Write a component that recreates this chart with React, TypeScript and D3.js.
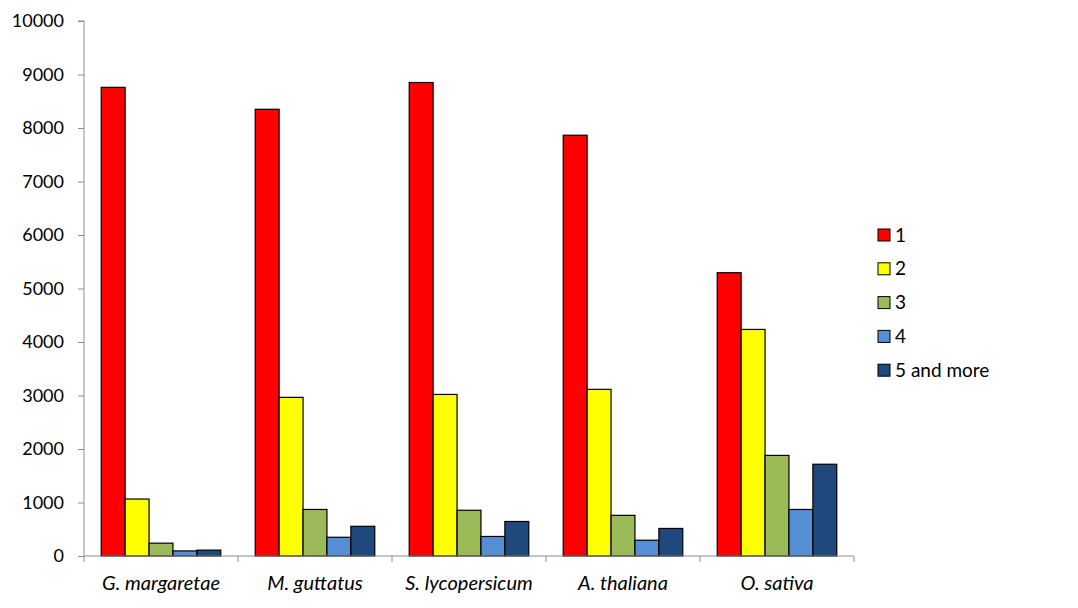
import React, {useEffect, useRef} from 'react';
import * as d3 from 'd3';

const species = ['G. margaretae', 'M. guttatus', 'S. lycopersicum', 'A. thaliana', 'O. sativa'];
const seriesNames = ['1', '2', '3', '4', '5 and more'];
const seriesColors = ['#ff0000', '#ffff00', '#9bbb59', '#558ed5', '#1f497d'];

const one = [8760, 8350, 8850, 7865, 5295];
const two = [1065, 2965, 3020, 3115, 4235];
const three = [240, 870, 855, 760, 1880];
const four = [95, 350, 365, 295, 870];
const fivePlus = [110, 555, 645, 515, 1715];

const yTicks = [0, 1000, 2000, 3000, 4000, 5000, 6000, 7000, 8000, 9000, 10000];

const allSeries = [one, two, three, four, fivePlus];

export default function App() {
  const el = useRef<SVGSVGElement>(null);

  useEffect(() => {
    const svg = d3.select(el.current);
    svg.selectAll('*').remove();

    const left = 84, right = 854, top = 21, bottom = 556;
    const font = 'Lato, "Open Sans", sans-serif';

    const x0 = d3.scaleBand().domain(species).range([left, right]).paddingInner(0).paddingOuter(0);
    const x1 = d3.scaleBand().domain(seriesNames).range([0, x0.bandwidth()]).paddingOuter(0.72).paddingInner(0);
    const y = d3.scaleLinear().domain([0, 10000]).range([bottom, top]);

    // bars
    species.forEach((sp, i) => {
      const g = svg.append('g').attr('transform', `translate(${x0(sp)},0)`);
      allSeries.forEach((vals, s) => {
        g.append('rect')
          .attr('x', x1(seriesNames[s])!)
          .attr('y', y(vals[i]))
          .attr('width', x1.bandwidth())
          .attr('height', y(0) - y(vals[i]))
          .attr('fill', seriesColors[s])
          .attr('stroke', '#000')
          .attr('stroke-width', 1.2);
      });
    });

    // y axis
    const yAxis = svg.append('g').attr('transform', `translate(${left},0)`)
      .call(d3.axisLeft(y).tickValues(yTicks).tickSize(6).tickPadding(14).tickFormat(d3.format('d')));
    yAxis.select('.domain').attr('stroke', '#8c8c8c').attr('d', `M-6,${top}H0V${bottom}`);
    yAxis.selectAll('.tick line').attr('stroke', '#8c8c8c');
    yAxis.selectAll('.tick text').attr('font-family', font).attr('font-size', 18).attr('fill', '#000');

    // x axis
    const xEdges = species.map(s => x0(s)!).concat([right]);
    const xAxis = svg.append('g');
    xAxis.append('line').attr('x1', left).attr('x2', right).attr('y1', bottom).attr('y2', bottom).attr('stroke', '#8c8c8c');
    xAxis.selectAll('line.tk').data(xEdges).enter().append('line')
      .attr('x1', d => d).attr('x2', d => d).attr('y1', bottom).attr('y2', bottom + 6).attr('stroke', '#8c8c8c');
    xAxis.selectAll('text').data(species).enter().append('text')
      .attr('x', d => x0(d)! + x0.bandwidth() / 2)
      .attr('y', 590)
      .attr('text-anchor', 'middle')
      .attr('font-family', font)
      .attr('font-style', 'italic')
      .attr('font-size', 20)
      .text(d => d);

    // legend
    const legend = svg.append('g');
    seriesNames.forEach((n, i) => {
      const cy = 235 + i * 33.8;
      legend.append('rect').attr('x', 878).attr('y', cy - 6).attr('width', 12).attr('height', 12)
        .attr('fill', seriesColors[i]).attr('stroke', '#000').attr('stroke-width', 1);
      legend.append('text').attr('x', 895).attr('y', cy + 6.5)
        .attr('font-family', font).attr('font-size', 19).text(n);
    });
  }, []);

  return (
    <div style={{margin: -8}}>
      <svg ref={el} width={1078} height={608} style={{display: 'block', background: '#fff'}} />
    </div>
  );
}
